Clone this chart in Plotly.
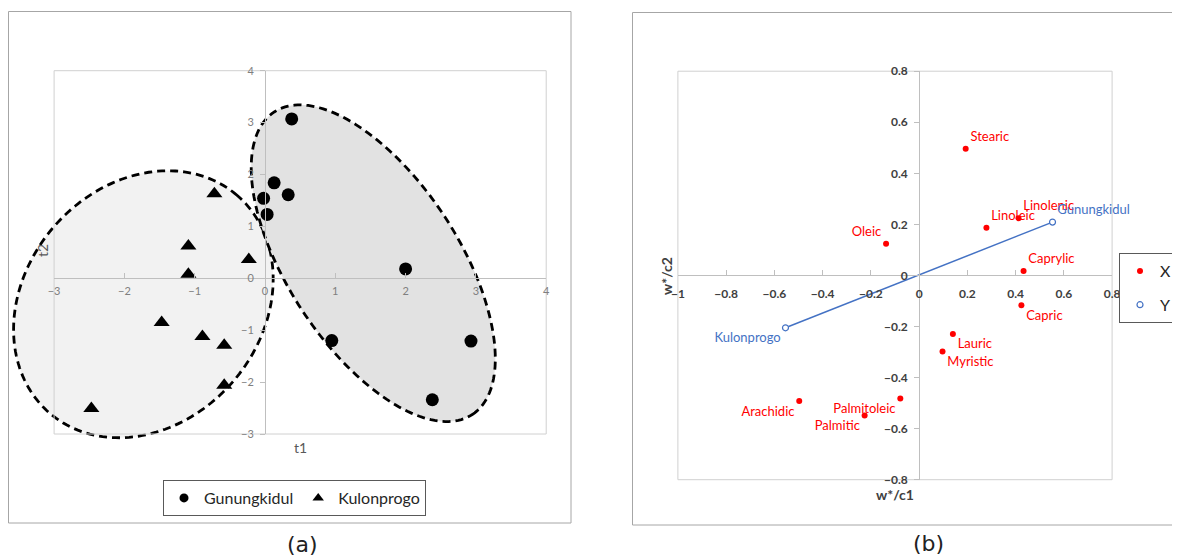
import numpy as np
import plotly.graph_objects as go

W, H = 1180, 558
OFF = 8  # page body margin of the viewer

# ---------------- Panel (a) data ----------------
gk_t1 = [0.38, 0.13, 0.33, -0.02, 0.03, 2.00, 0.95, 2.93, 2.38]
gk_t2 = [3.07, 1.84, 1.61, 1.54, 1.23, 0.18, -1.20, -1.21, -2.34]
kp_t1 = [-0.72, -1.09, -1.09, -0.23, -1.47, -0.89, -0.58, -0.58, -2.47]
kp_t2 = [1.63, 0.62, 0.08, 0.36, -0.85, -1.12, -1.29, -2.06, -2.51]
a_ticks_x = [-3, -2, -1, 0, 1, 2, 3, 4]
a_ticks_y = [-3, -2, -1, 0, 1, 2, 3, 4]

# ---------------- Panel (b) data ----------------
x_names = ["Stearic", "Linolenic", "Linoleic", "Oleic", "Caprylic", "Capric",
           "Lauric", "Myristic", "Arachidic", "Palmitoleic", "Palmitic"]
x_c1 = [0.193, 0.412, 0.279, -0.137, 0.433, 0.424, 0.140, 0.097, -0.497, -0.078, -0.226]
x_c2 = [0.496, 0.224, 0.187, 0.124, 0.017, -0.117, -0.229, -0.298, -0.492, -0.482, -0.549]
y_names = ["Kulonprogo", "Gunungkidul"]
y_c1 = [-0.554, 0.553]
y_c2 = [-0.205, 0.209]
b_ticks_x = [-1, -0.8, -0.6, -0.4, -0.2, 0, 0.2, 0.4, 0.6, 0.8]
b_ticks_y = [-0.8, -0.6, -0.4, -0.2, 0, 0.2, 0.4, 0.6, 0.8]

# label placement (style)
x_pos = ["top right", "top right", "top right", "top left", "top right", "bottom right",
         "bottom right", "bottom right", "bottom left", "bottom left", "bottom left"]
y_pos = ["bottom left", "top right"]


# ---------------- layout geometry ----------------
def PX(px):
    return (px - OFF) / W


def PY(py):
    return (H - (py - OFF)) / H


A_RX, A_RY = [-3, 4], [-3, 4]
B_RX, B_RY = [-1, 0.8], [-0.8, 0.8]
A_DX = [PX(54.1), PX(546.2)]
A_DY = [PY(434.0), PY(70.7)]
B_DX = [PX(677.9), PX(1112.1)]
B_DY = [PY(479.7), PY(71.2)]


def to_paper(v, rng, dom):
    return dom[0] + (v - rng[0]) / (rng[1] - rng[0]) * (dom[1] - dom[0])


FONT = "Lato, 'Open Sans', sans-serif"
fig = go.Figure()

# panel (a) traces
fig.add_trace(go.Scatter(x=gk_t1, y=gk_t2, mode="markers", name="Gunungkidul",
                         marker=dict(symbol="circle", size=13, color="black"),
                         xaxis="x", yaxis="y", showlegend=False))
fig.add_trace(go.Scatter(x=kp_t1, y=kp_t2, mode="markers", name="Kulonprogo",
                         marker=dict(symbol="triangle-up", size=14, color="black"),
                         xaxis="x", yaxis="y", showlegend=False))
# legend entries for panel (a)
fig.add_trace(go.Scatter(x=[None], y=[None], mode="markers", name="Gunungkidul",
                         marker=dict(symbol="circle", size=9, color="black"),
                         xaxis="x", yaxis="y", legend="legend"))
fig.add_trace(go.Scatter(x=[None], y=[None], mode="markers", name="Kulonprogo",
                         marker=dict(symbol="triangle-up", size=10, color="black"),
                         xaxis="x", yaxis="y", legend="legend"))

# panel (b) traces
fig.add_trace(go.Scatter(x=y_c1, y=y_c2, mode="lines", line=dict(color="#4472C4", width=1.5),
                         xaxis="x2", yaxis="y2", showlegend=False, hoverinfo="skip"))
fig.add_trace(go.Scatter(x=x_c1, y=x_c2, mode="markers+text", name="X", text=x_names,
                         textposition=x_pos, cliponaxis=False,
                         textfont=dict(color="#FF0000", size=13, family=FONT),
                         marker=dict(color="#FF0000", size=6),
                         xaxis="x2", yaxis="y2", legend="legend2", legendgroup="X"))
fig.add_trace(go.Scatter(x=y_c1, y=y_c2, mode="markers+text", name="Y", text=y_names,
                         textposition=y_pos, cliponaxis=False,
                         textfont=dict(color="#4472C4", size=13, family=FONT),
                         marker=dict(color="white", size=6, symbol="circle",
                                     line=dict(color="#4472C4", width=1.2)),
                         xaxis="x2", yaxis="y2", legend="legend2", legendgroup="Y"))

# ---------------- shapes ----------------
shapes = []


def ellipse_path(cx, cy, a, b, ang, rx, ry, dx, dy):
    cxp, cyp = to_paper(cx, rx, dx), to_paper(cy, ry, dy)
    th = np.deg2rad(ang)
    t = np.linspace(0, 2 * np.pi, 181)
    ox = a * np.cos(t) * np.cos(th) - b * np.sin(t) * np.sin(th)
    oy = a * np.cos(t) * np.sin(th) + b * np.sin(t) * np.cos(th)
    px = cxp + ox / W
    py = cyp + oy / H
    d = "M " + " L ".join(f"{x:.5f},{y:.5f}" for x, y in zip(px, py)) + " Z"
    return d


ell_style = dict(type="path", xref="paper", yref="paper", layer="below",
                 line=dict(color="black", width=2.8, dash="8px,5px"))
shapes.append(dict(path=ellipse_path(-1.73, -0.50, 143.7, 118.4, 49.2, A_RX, A_RY, A_DX, A_DY),
                   fillcolor="#f2f2f2", **ell_style))
shapes.append(dict(path=ellipse_path(1.54, 0.29, 180.8, 85.3, -56.8, A_RX, A_RY, A_DX, A_DY),
                   fillcolor="#e2e2e2", **ell_style))

# plot-area borders
shapes.append(dict(type="rect", xref="x domain", yref="y domain", x0=0, x1=1, y0=0, y1=1,
                   line=dict(color="#d0d0d0", width=1), layer="below"))
shapes.append(dict(type="rect", xref="x2 domain", yref="y2 domain", x0=0, x1=1, y0=0, y1=1,
                   line=dict(color="#d0d0d0", width=1), layer="below"))
# chart-area borders
shapes.append(dict(type="rect", xref="paper", yref="paper", x0=PX(8.5), x1=PX(571),
                   y0=PY(523), y1=PY(11.5), line=dict(color="#a6a6a6", width=1),
                   layer="below"))
shapes.append(dict(type="rect", xref="paper", yref="paper", x0=PX(632.5), x1=PX(1200),
                   y0=PY(525), y1=PY(12.5), line=dict(color="#a6a6a6", width=1),
                   layer="below"))

# ---------------- annotations ----------------
ctr = dict(xref="paper", yref="paper", showarrow=False, xanchor="center", yanchor="middle")
ann = [
    dict(text="t1", x=PX(300), y=PY(447), font=dict(size=14, color="#595959", family=FONT), **ctr),
    dict(text="t2", x=PX(43), y=PY(251), textangle=-90,
         font=dict(size=14, color="#595959", family=FONT), **ctr),
    dict(text="w*/c1", x=PX(895), y=PY(494),
         font=dict(size=14, color="#404040", family=FONT, weight="bold"), **ctr),
    dict(text="w*/c2", x=PX(666), y=PY(276), textangle=-90,
         font=dict(size=14, color="#404040", family=FONT, weight="bold"), **ctr),
    dict(text="(a)", x=PX(302), y=PY(544), font=dict(size=22, color="#222222", family="DejaVu Sans"), **ctr),
    dict(text="(b)", x=PX(928), y=PY(543), font=dict(size=22, color="#222222", family="DejaVu Sans"), **ctr),
]

# ---------------- axes ----------------
common = dict(showgrid=False, zeroline=False, showline=True, linecolor="#bfbfbf", linewidth=1,
              tickcolor="#bfbfbf", ticklen=5, anchor="free")

fig.update_layout(
    width=W, height=H, margin=dict(l=0, r=0, t=0, b=0, autoexpand=False),
    paper_bgcolor="white", plot_bgcolor="rgba(0,0,0,0)",
    font=dict(family=FONT),
    xaxis=dict(range=A_RX, domain=A_DX, tickvals=a_ticks_x, ticks="inside",
               position=to_paper(0, A_RY, A_DY), ticklabelstandoff=2,
               tickfont=dict(size=11, color="#7f7f7f"), **common),
    yaxis=dict(range=A_RY, domain=A_DY, tickvals=a_ticks_y, ticks="outside",
               position=to_paper(0, A_RX, A_DX), ticklabelstandoff=4,
               tickfont=dict(size=11, color="#7f7f7f"), **common),
    xaxis2=dict(range=B_RX, domain=B_DX, tickvals=b_ticks_x, ticks="inside",
                position=to_paper(0, B_RY, B_DY), ticklabelstandoff=7,
                tickfont=dict(size=12, color="#404040", weight="bold"), **common),
    yaxis2=dict(range=B_RY, domain=B_DY, tickvals=b_ticks_y, ticks="outside",
                position=to_paper(0, B_RX, B_DX), ticklabelstandoff=4,
                tickfont=dict(size=12, color="#404040", weight="bold"), **common),
    legend=dict(orientation="h", x=PX(163), y=PY(480), xanchor="left", yanchor="top",
                bordercolor="#595959", borderwidth=1, bgcolor="white",
                font=dict(size=16, color="#262626", family=FONT)),
    legend2=dict(orientation="v", x=PX(1119), y=PY(253), xanchor="left", yanchor="top",
                 bordercolor="#595959", borderwidth=1, bgcolor="white", tracegroupgap=10,
                 font=dict(size=16, color="#262626", family=FONT)),
    shapes=shapes, annotations=ann,
)

fig.write_html("out.html")
